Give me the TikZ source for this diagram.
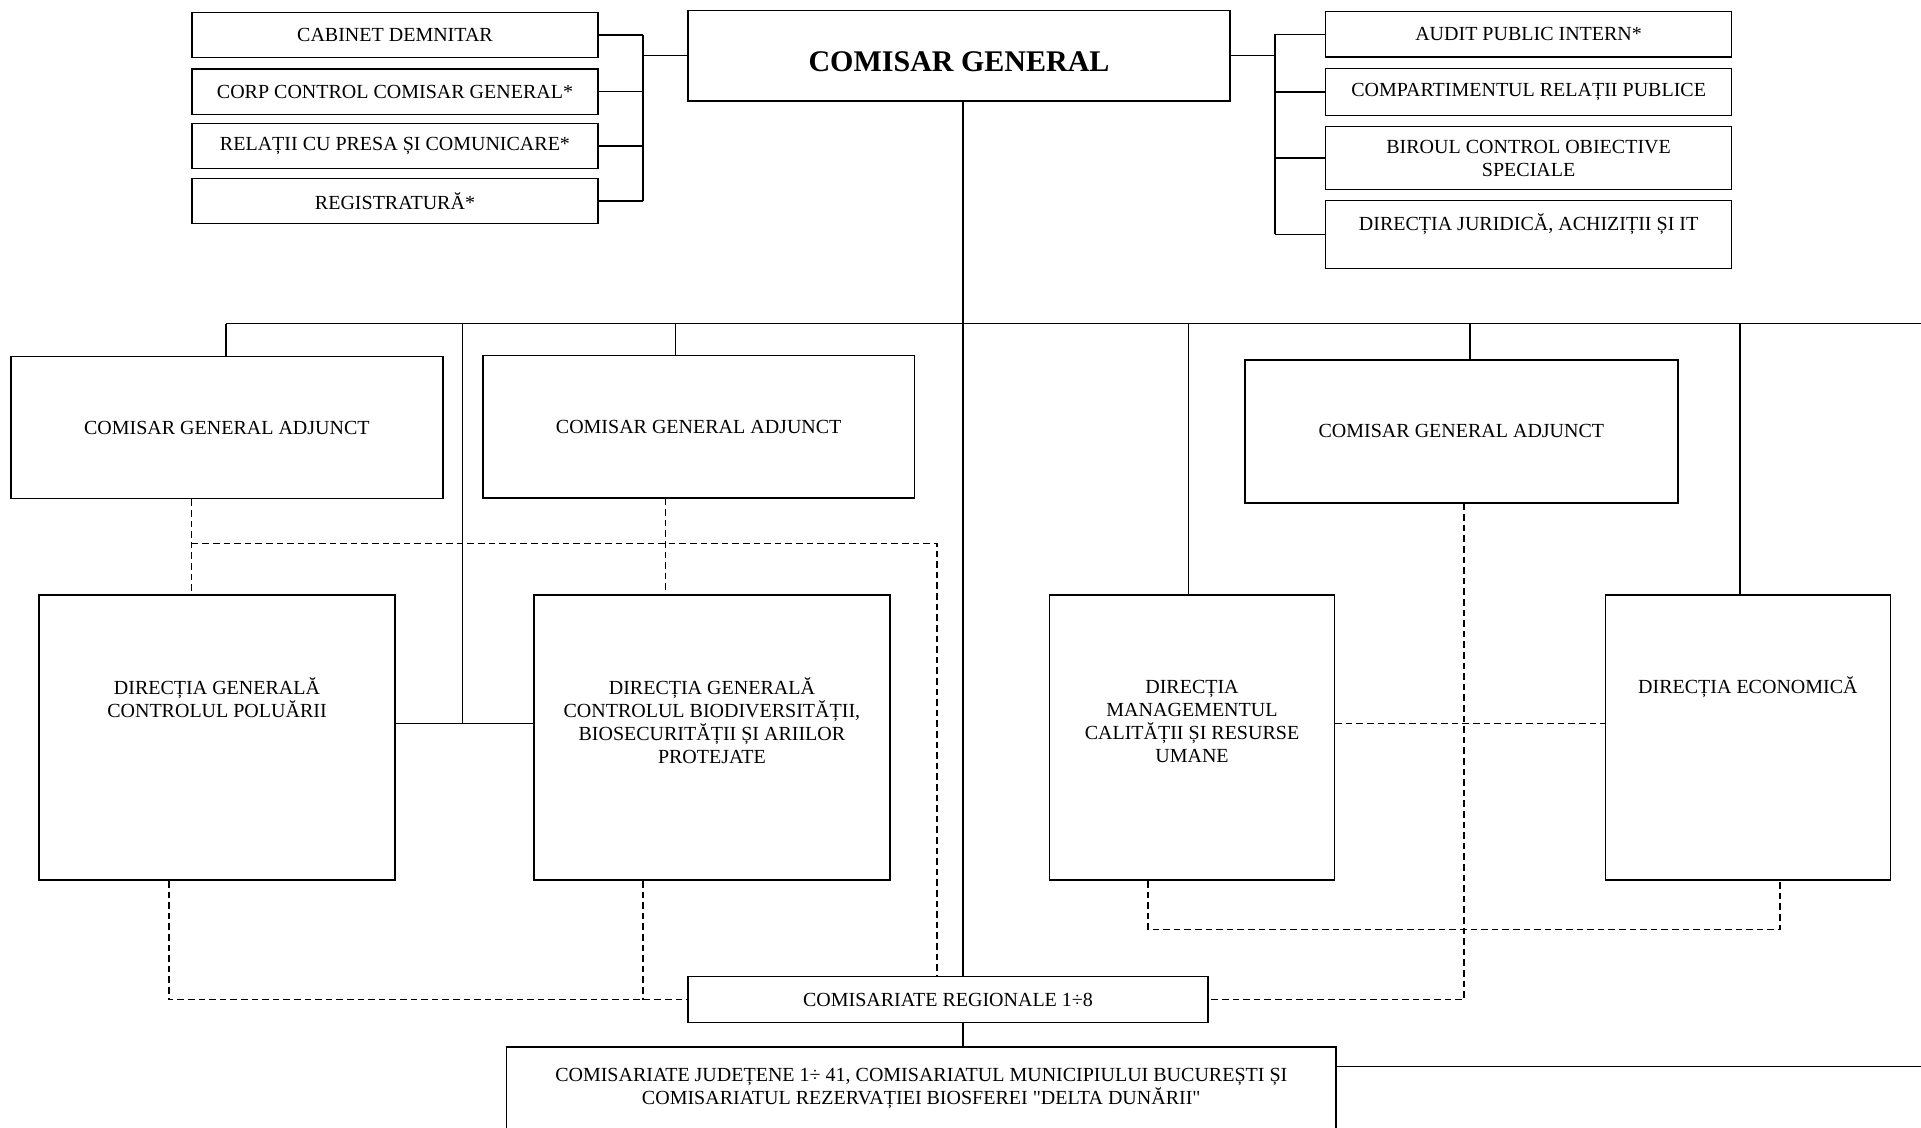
\documentclass[tikz,border=0pt]{standalone}
\usepackage{fontspec}
\setmainfont{Liberation Serif}[Ligatures=TeXOff]
\usetikzlibrary{positioning}

\begin{document}
\begin{tikzpicture}[x=0.5pt,y=-0.5pt,
      box/.style={draw,line width=0.75pt,inner sep=0pt,align=center,font=\fontsize{10}{11.5}\selectfont},
      toptxt/.style={anchor=north,align=center,inner sep=0pt,font=\fontsize{10}{11.5}\selectfont,execute at begin node={\rule{0pt}{12.5pt}}},
      link/.style={line width=0.7pt},
      dlink/.style={line width=0.75pt,dash pattern=on 3.3pt off 2pt}]
      \useasboundingbox (0,0) rectangle (1921,1128);

      \node[box,minimum width=271pt,text height=30.35pt,text depth=15pt,font=\bfseries\fontsize{15}{18}\selectfont] (com) at (959,55.7) {COMISAR GENERAL};

      \node[box,minimum width=203pt,minimum height=22.7pt] (cab) at (395,35) {CABINET DEMNITAR};
      \node[box,minimum width=203pt,minimum height=22.7pt] (corp) at (395,91.7) {CORP CONTROL COMISAR GENERAL*};
      \node[box,minimum width=203pt,minimum height=22.7pt] (rel) at (395,146) {RELAȚII CU PRESA ȘI COMUNICARE*};
      \node[box,minimum width=203pt,minimum height=22.7pt] (reg) at (395,201) {REGISTRATURĂ*};

      \node[box,minimum width=203pt,minimum height=22.65pt] (audit) at (1528.6,34.3) {AUDIT PUBLIC INTERN*};
      \node[box,minimum width=203pt,minimum height=23.5pt] (comp) at (1528.6,92.2) {COMPARTIMENTUL RELAȚII PUBLICE};
      \node[box,minimum width=203pt,minimum height=31.7pt] (birou) at (1528.6,158) {BIROUL CONTROL OBIECTIVE\\SPECIALE};
      \node[box,minimum width=203pt,minimum height=34.2pt,
            label={[toptxt,yshift=-2.85pt]north:{DIRECȚIA JURIDICĂ, ACHIZIȚII ȘI IT}}] (jur) at (1528.6,234.5) {};

      \node[box,minimum width=215.85pt,minimum height=71.15pt] (cga1) at (226.9,427.5) {COMISAR GENERAL ADJUNCT};
      \node[box,minimum width=215.65pt,minimum height=71.2pt] (cga2) at (698.7,426.7) {COMISAR GENERAL ADJUNCT};
      \node[box,minimum width=216.35pt,minimum height=71.4pt] (cga3) at (1461.4,431.4) {COMISAR GENERAL ADJUNCT};

      \node[box,minimum width=177.9pt,minimum height=142.6pt,
            label={[toptxt,yshift=-41.3pt]north:{DIRECȚIA GENERALĂ\\CONTROLUL POLUĂRII}}] (dgcp) at (217,737.6) {};
      \node[box,minimum width=177.9pt,minimum height=142.6pt,
            label={[toptxt,yshift=-41.3pt]north:{DIRECȚIA GENERALĂ\\CONTROLUL BIODIVERSITĂȚII,\\BIOSECURITĂȚII ȘI ARIILOR\\PROTEJATE}}] (dgcb) at (711.9,737.6) {};
      \node[box,minimum width=142.5pt,minimum height=142.6pt,
            label={[toptxt,yshift=-42.6pt]north:{DIRECȚIA\\MANAGEMENTUL\\CALITĂȚII ȘI RESURSE\\UMANE}}] (dmcru) at (1192,737.6) {};
      \node[box,minimum width=142.5pt,minimum height=142.6pt,
            label={[toptxt,yshift=-37.1pt]north:{DIRECȚIA ECONOMICĂ}}] (de) at (1747.9,737.6) {};

      \node[box,minimum width=260pt,minimum height=23pt] (cr) at (948,999.7) {COMISARIATE REGIONALE 1÷8};
      \node[box,minimum width=414.65pt,minimum height=46.5pt,
            label={[toptxt,yshift=-10.8pt]north:{COMISARIATE JUDEȚENE 1÷ 41, COMISARIATUL MUNICIPIULUI BUCUREȘTI ȘI\\COMISARIATUL REZERVAȚIEI BIOSFEREI "DELTA DUNĂRII"}}] (cj) at (921.3,1093.5) {};

      \coordinate (lb) at (643,0);
      \coordinate (rb) at (1275,0);
      \coordinate (trunk) at (963,0);
      \coordinate (busL) at (226,323.7);
      \coordinate (busR) at (1921,323.7);
      \coordinate (mid) at (462.3,723.6);
      \coordinate (k1) at (191.7,543.4);
      \coordinate (k2) at (937,543.4);
      \coordinate (k3) at (169,999.7);
      \coordinate (k4) at (643,999.7);
      \coordinate (k5) at (1463.8,999.7);
      \coordinate (k6) at (1148,929.3);
      \coordinate (k7) at (1780,929.3);
      \coordinate (k8) at (1921,1066.7);

      % solid links
      \foreach \n in {cab,corp,rel,reg}
        \draw[link] (\n.east) -- (\n.east -| lb);
      \draw[link] (lb |- cab.east) -- (lb |- reg.east);
      \draw[link] (lb |- com.west) -- (com.west);
      \foreach \n in {audit,comp,birou,jur}
        \draw[link] (\n.west) -- (\n.west -| rb);
      \draw[link] (rb |- audit.west) -- (rb |- jur.west);
      \draw[link] (com.east) -- (com.east -| rb);

      \draw[link] (com.south -| trunk) -- (cr.north -| trunk);
      \draw[link] (cr.south -| trunk) -- (cj.north -| trunk);
      \draw[link] (busL) -- (busR);
      \foreach \x/\n in {226/cga1,675.4/cga2,1188.6/dmcru,1470/cga3,1740/de}
        \draw[link] (\x,323.7) -- (\x,0 |- \n.north);
      \draw[link] (mid |- busL) -- (mid);
      \draw[link] (dgcp.east |- mid) -- (dgcb.west |- mid);
      \draw[link] (k8 -| cj.east) -- (k8);

      % dashed links
      \draw[dlink] (cga1.south -| k1) -- (dgcp.north -| k1);
      \draw[dlink] (k1) -- (k2) -- (k2 |- cr.north);
      \draw[dlink] (cga2.south -| 665.6,0) -- (dgcb.north -| 665.6,0);
      \draw[dlink] (dgcp.south -| k3) -- (k3) -- (cr.west);
      \draw[dlink] (dgcb.south -| k4) -- (k4);
      \draw[dlink] (cga3.south -| k5) -- (k5) -- (cr.east);
      \draw[dlink] (dmcru.east |- mid) -- (de.west |- mid);
      \draw[dlink] (dmcru.south -| k6) -- (k6) -- (k7) -- (k7 |- de.south);
\end{tikzpicture}
\end{document}
